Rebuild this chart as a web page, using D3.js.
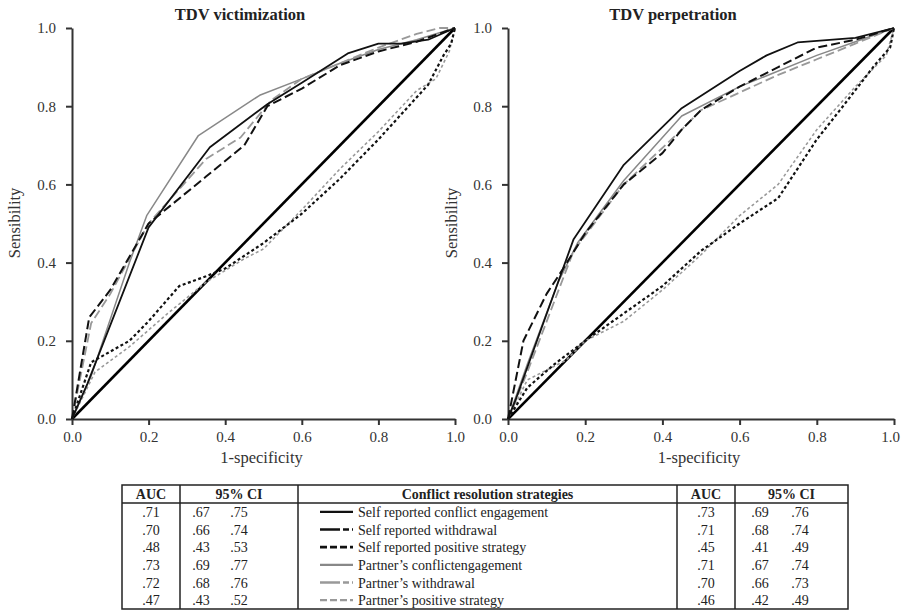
<!DOCTYPE html>
<html><head><meta charset="utf-8">
<script src="https://cdn.jsdelivr.net/npm/d3@7"></script>
<style>
body{margin:0;background:#fff;}
svg{display:block;font-family:"Liberation Serif","DejaVu Serif",serif;}
</style></head>
<body>
<svg id="c" width="901" height="614"></svg>
<script>
// ---------- DATA ----------
const panelTitles = ["TDV victimization", "TDV perpetration"];
const xLabel = "1-specificity";
const yLabel = "Sensibility";
const tickValues = [0, 0.2, 0.4, 0.6, 0.8, 1.0];

const strategies = ["Self reported conflict engagement", "Self reported withdrawal", "Self reported positive strategy",
  "Partner\u2019s conflictengagement", "Partner\u2019s withdrawal", "Partner\u2019s positive strategy"];

// TDV victimization ROC points [1-specificity, sensibility]
const victSelfEngagement = [[0,0],[0.04,0.09],[0.2,0.49],[0.36,0.695],[0.51,0.805],[0.6,0.86],[0.72,0.935],[0.8,0.96],[0.86,0.96],[0.93,0.97],[1,1]];
const victSelfWithdrawal = [[0,0],[0.045,0.26],[0.1,0.33],[0.2,0.5],[0.35,0.62],[0.45,0.7],[0.51,0.8],[0.6,0.845],[0.7,0.905],[0.8,0.94],[0.9,0.965],[1,1]];
const victSelfPositive = [[0,0],[0.05,0.145],[0.15,0.2],[0.2,0.25],[0.28,0.34],[0.35,0.365],[0.4,0.385],[0.5,0.45],[0.6,0.525],[0.7,0.615],[0.8,0.715],[0.93,0.855],[0.97,0.93],[0.99,0.96],[1,1]];
const victPartnerEngagement = [[0,0],[0.05,0.11],[0.15,0.4],[0.195,0.52],[0.33,0.725],[0.49,0.828],[0.6,0.87],[0.7,0.91],[0.8,0.945],[0.9,0.97],[1,1]];
const victPartnerWithdrawal = [[0,0],[0.05,0.245],[0.1,0.32],[0.2,0.5],[0.35,0.665],[0.44,0.72],[0.52,0.815],[0.6,0.87],[0.7,0.91],[0.8,0.95],[0.9,0.985],[0.96,1.0],[1,1]];
const victPartnerPositive = [[0,0],[0.06,0.12],[0.15,0.185],[0.25,0.27],[0.35,0.35],[0.45,0.41],[0.5,0.435],[0.6,0.535],[0.7,0.64],[0.8,0.735],[0.9,0.84],[0.95,0.87],[0.985,0.94],[1,1]];

// TDV perpetration ROC points
const perpSelfEngagement = [[0,0],[0.02,0.05],[0.17,0.46],[0.3,0.65],[0.45,0.795],[0.6,0.89],[0.67,0.93],[0.75,0.963],[0.9,0.975],[1,1]];
const perpSelfWithdrawal = [[0,0],[0.04,0.2],[0.1,0.32],[0.14,0.38],[0.2,0.475],[0.3,0.6],[0.4,0.68],[0.45,0.74],[0.5,0.79],[0.6,0.85],[0.7,0.9],[0.8,0.95],[0.9,0.97],[1,1]];
const perpSelfPositive = [[0,0],[0.05,0.08],[0.12,0.14],[0.2,0.2],[0.3,0.27],[0.4,0.34],[0.5,0.43],[0.6,0.5],[0.7,0.565],[0.8,0.715],[0.86,0.79],[0.95,0.905],[0.99,0.95],[1,1]];
const perpPartnerEngagement = [[0,0],[0.05,0.14],[0.13,0.35],[0.18,0.45],[0.3,0.61],[0.45,0.775],[0.6,0.85],[0.8,0.93],[0.9,0.965],[1,1]];
const perpPartnerWithdrawal = [[0,0],[0.05,0.12],[0.17,0.43],[0.3,0.6],[0.45,0.74],[0.5,0.79],[0.7,0.88],[0.8,0.92],[0.9,0.96],[1,1]];
const perpPartnerPositive = [[0,0],[0.05,0.1],[0.15,0.15],[0.2,0.2],[0.3,0.25],[0.4,0.33],[0.5,0.42],[0.6,0.52],[0.7,0.6],[0.8,0.74],[0.9,0.85],[0.98,0.93],[1,1]];

const referenceLine = [[0,0],[1,1]];

// table values
const aucVict = [".71", ".70", ".48", ".73", ".72", ".47"];
const ciLowVict = [".67", ".66", ".43", ".69", ".68", ".43"];
const ciHighVict = [".75", ".74", ".53", ".77", ".76", ".52"];
const aucPerp = [".73", ".71", ".45", ".71", ".70", ".46"];
const ciLowPerp = [".69", ".68", ".41", ".67", ".66", ".42"];
const ciHighPerp = [".76", ".74", ".49", ".74", ".73", ".49"];
const tableHeaders = ["AUC", "95% CI", "Conflict resolution strategies", "AUC", "95% CI"];

// ---------- STYLES ----------
const styles = [
  {stroke:"#111", width:1.8, dash:null},
  {stroke:"#111", width:2.0, dash:"9,4"},
  {stroke:"#111", width:2.2, dash:"3,2.5"},
  {stroke:"#888", width:1.5, dash:null},
  {stroke:"#999", width:1.8, dash:"9,4"},
  {stroke:"#999", width:1.6, dash:"3,2.5"}
];

const svg = d3.select("#c");
const panels = [
  {title: panelTitles[0], x0:72, x1:455, series:[victSelfEngagement,victSelfWithdrawal,victSelfPositive,victPartnerEngagement,victPartnerWithdrawal,victPartnerPositive], titleX:240, ylabX:20},
  {title: panelTitles[1], x0:508, x1:894, series:[perpSelfEngagement,perpSelfWithdrawal,perpSelfPositive,perpPartnerEngagement,perpPartnerWithdrawal,perpPartnerPositive], titleX:673, ylabX:457}
];
const yTop = 28, yBot = 419;

panels.forEach((p, pi) => {
  const x = d3.scaleLinear().domain([0,1]).range([p.x0, p.x1]);
  const y = d3.scaleLinear().domain([0,1]).range([yBot, yTop]);
  const g = svg.append("g");
  const line = d3.line().x(d => x(d[0])).y(d => y(d[1]));

  // axes
  const ax = g.append("g").attr("transform", `translate(0,${yBot})`)
    .call(d3.axisBottom(x).tickValues(tickValues).tickFormat(d3.format(".1f")).tickSize(6).tickSizeOuter(0).tickPadding(6));
  const ay = g.append("g").attr("transform", `translate(${p.x0},0)`)
    .call(d3.axisLeft(y).tickValues(tickValues).tickFormat(d3.format(".1f")).tickSize(6).tickSizeOuter(0).tickPadding(10));
  [ax, ay].forEach(a => {
    a.select(".domain").attr("stroke", "#333").attr("stroke-width", 2);
    a.selectAll(".tick line").attr("stroke", "#333").attr("stroke-width", 2);
    a.selectAll("text").attr("font-family", "Liberation Serif, serif").attr("font-size", 15).attr("fill", "#333");
  });
  if (pi === 1) {
    ax.selectAll(".tick text").filter(d => d === 1).attr("dx", -4);
  }

  // reference diagonal
  g.append("path").datum(referenceLine).attr("d", line)
    .attr("fill", "none").attr("stroke", "#000").attr("stroke-width", 2.6);

  // curves: draw partner first so self on top
  const order = [3,4,5,0,1,2];
  order.forEach(i => {
    const s = styles[i];
    g.append("path").datum(p.series[i]).attr("d", line)
      .attr("fill", "none").attr("stroke", s.stroke).attr("stroke-width", s.width)
      .attr("stroke-dasharray", s.dash).attr("stroke-linejoin", "round");
  });

  // titles & labels
  svg.append("text").attr("x", p.titleX).attr("y", 20).attr("text-anchor", "middle")
    .attr("font-size", 16.5).attr("font-weight", "bold").attr("fill", "#222").text(p.title);
  svg.append("text").attr("x", (p.x0+p.x1)/2 - 2).attr("y", 463).attr("text-anchor", "middle")
    .attr("font-size", 16.5).attr("fill", "#333").text(xLabel);
  svg.append("text").attr("transform", `translate(${p.ylabX},223) rotate(-90)`).attr("text-anchor", "middle")
    .attr("font-size", 16.5).attr("fill", "#333").text(yLabel);
});

// ---------- TABLE ----------
const colX = [122, 180, 298, 677, 735, 848];
const tTop = 485, tHead = 503, tBot = 609;
const rowH = (tBot - tHead) / 6;
const tg = svg.append("g");
tg.append("rect").attr("x", colX[0]).attr("y", tTop).attr("width", colX[5]-colX[0]).attr("height", tBot-tTop)
  .attr("fill", "none").attr("stroke", "#222").attr("stroke-width", 1.5);
colX.slice(1,5).forEach(cx => tg.append("line").attr("x1", cx).attr("x2", cx).attr("y1", tTop).attr("y2", tBot)
  .attr("stroke", "#222").attr("stroke-width", 1.5));
tg.append("line").attr("x1", colX[0]).attr("x2", colX[5]).attr("y1", tHead).attr("y2", tHead).attr("stroke", "#222").attr("stroke-width", 1.5);

tableHeaders.forEach((h, i) => {
  tg.append("text").attr("x", (colX[i]+colX[i+1])/2).attr("y", tTop + 14).attr("text-anchor", "middle")
    .attr("font-size", 14).attr("font-weight", "bold").attr("fill", "#222").text(h);
});

strategies.forEach((s, i) => {
  const cy = tHead + rowH*i + rowH/2;
  const base = cy + 5;
  const txt = (xx, t, anchor) => tg.append("text").attr("x", xx).attr("y", base).attr("text-anchor", anchor || "middle")
    .attr("font-size", 14).attr("fill", "#222").text(t);
  txt((colX[0]+colX[1])/2, aucVict[i]);
  txt(colX[1]+21, ciLowVict[i]);
  txt(colX[1]+59, ciHighVict[i]);
  txt((colX[3]+colX[4])/2, aucPerp[i]);
  txt(colX[4]+25, ciLowPerp[i]);
  txt(colX[4]+65, ciHighPerp[i]);
  const st = styles[i];
  tg.append("line").attr("x1", 320).attr("x2", 353).attr("y1", cy).attr("y2", cy)
    .attr("stroke", st.stroke).attr("stroke-width", st.width + 0.6).attr("stroke-dasharray", st.dash ? (i % 3 === 1 ? "20,3,6,3" : "7,3") : null);
  txt(358, s, "start");
});
</script>
</body></html>
